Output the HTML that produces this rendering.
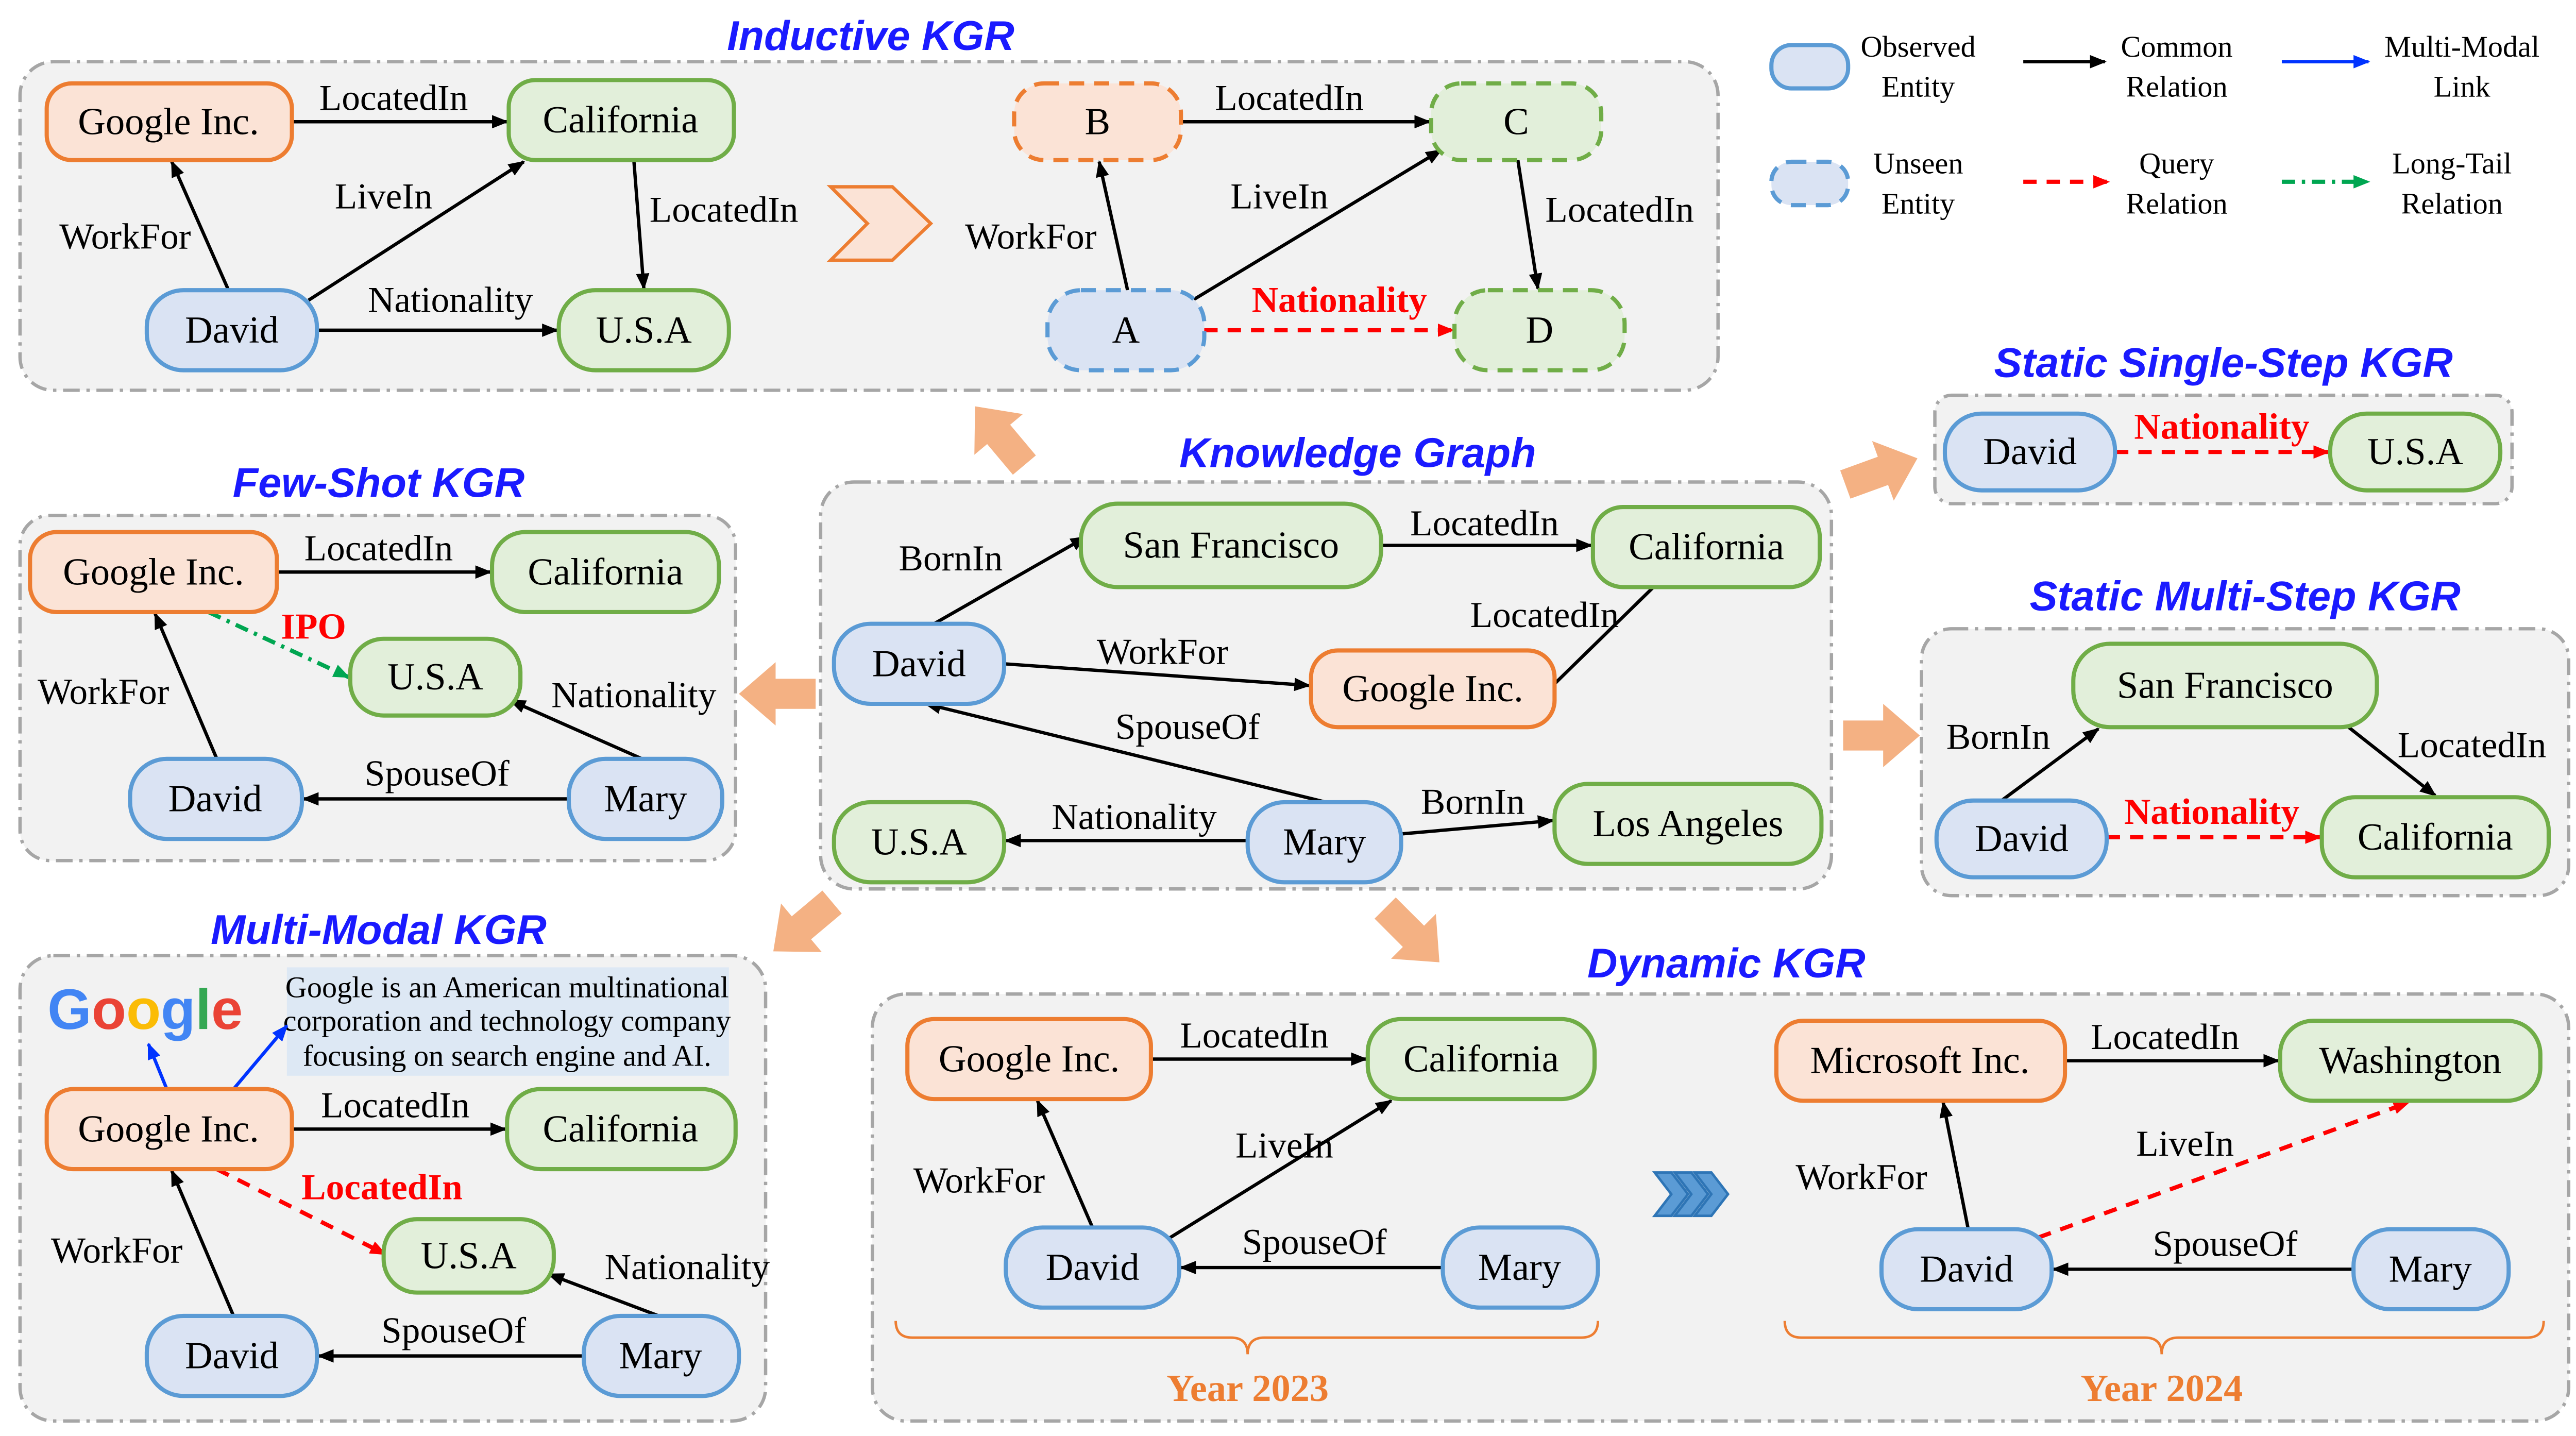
<!DOCTYPE html>
<html><head><meta charset="utf-8"><style>
html,body{margin:0;padding:0;background:#fff;}
svg{display:block;}
.n{font-family:"Liberation Serif",serif;font-size:23px;fill:#000;text-anchor:middle;dominant-baseline:central;}
.e{font-family:"Liberation Serif",serif;font-size:22px;fill:#000;text-anchor:middle;}
.r{font-family:"Liberation Serif",serif;font-size:22px;fill:#f00;font-weight:bold;text-anchor:middle;}
.t{font-family:"Liberation Sans",sans-serif;font-size:25px;fill:#1a1aff;font-style:italic;font-weight:bold;text-anchor:middle;}
.lg{font-family:"Liberation Serif",serif;font-size:18px;fill:#000;text-anchor:middle;}
.y{font-family:"Liberation Serif",serif;font-size:23px;fill:#ed7d31;font-weight:bold;text-anchor:middle;}
.panel{fill:#f2f2f2;stroke:#a6a6a6;stroke-width:2;stroke-dasharray:10 4 2 4;}
.o{fill:#fbe3d6;stroke:#ed7d31;stroke-width:2.5;}
.g{fill:#e2efda;stroke:#70ad47;stroke-width:2.5;}
.b{fill:#dae3f3;stroke:#5b9bd5;stroke-width:2.5;}
.d{stroke-dasharray:9 6;}
.k{stroke:#000;stroke-width:2;fill:none;marker-end:url(#ak);}
.rd{stroke:#f00;stroke-width:2.5;fill:none;stroke-dasharray:8 6;marker-end:url(#ar);}
.bl{stroke:#0033ff;stroke-width:2;fill:none;marker-end:url(#ab);}
.gr{stroke:#00a651;stroke-width:2.5;fill:none;stroke-dasharray:8 4 2 4;marker-end:url(#ag);}
.big{fill:#f4b183;}
.br{fill:none;stroke:#ed7d31;stroke-width:1.5;}
</style></head><body>
<svg width="5070" height="2787" viewBox="0 0 1566 861" preserveAspectRatio="none" xmlns="http://www.w3.org/2000/svg">
<defs>
<marker id="ak" markerWidth="10" markerHeight="8" refX="9" refY="4" orient="auto" markerUnits="userSpaceOnUse"><path d="M0,0 L10,4 L0,8 z" fill="#000"/></marker>
<marker id="ar" markerWidth="10" markerHeight="8" refX="9" refY="4" orient="auto" markerUnits="userSpaceOnUse"><path d="M0,0 L10,4 L0,8 z" fill="#f00"/></marker>
<marker id="ab" markerWidth="10" markerHeight="8" refX="9" refY="4" orient="auto" markerUnits="userSpaceOnUse"><path d="M0,0 L10,4 L0,8 z" fill="#0033ff"/></marker>
<marker id="ag" markerWidth="10" markerHeight="8" refX="9" refY="4" orient="auto" markerUnits="userSpaceOnUse"><path d="M0,0 L10,4 L0,8 z" fill="#00a651"/></marker>
<polygon id="ba" points="-22,-9 2,-9 2,-19 24,0 2,19 2,9 -22,9"/>
</defs>
<rect width="1566" height="861" fill="#fff"/>

<!-- Inductive KGR -->
<text class="t" x="522" y="30">Inductive KGR</text>
<rect class="panel" x="12" y="37" width="1018" height="197" rx="20"/>
<line class="k" x1="175" y1="73" x2="304" y2="73"/><text class="e" x="236" y="66">LocatedIn</text>
<line class="k" x1="137" y1="174" x2="103" y2="97"/><text class="e" x="75" y="149">WorkFor</text>
<line class="k" x1="185" y1="180" x2="314" y2="97"/><text class="e" x="230" y="125">LiveIn</text>
<line class="k" x1="380" y1="96" x2="386" y2="173"/><text class="e" x="434" y="133">LocatedIn</text>
<line class="k" x1="190" y1="198" x2="334" y2="198"/><text class="e" x="270" y="187">Nationality</text>
<rect class="o" x="28" y="50" width="147" height="46" rx="15"/><text class="n" x="101" y="73">Google Inc.</text>
<rect class="g" x="305" y="48" width="135" height="48" rx="16"/><text class="n" x="372" y="72">California</text>
<rect class="b" x="88" y="174" width="102" height="48" rx="22"/><text class="n" x="139" y="198">David</text>
<rect class="g" x="335" y="174" width="102" height="48" rx="22"/><text class="n" x="386" y="198">U.S.A</text>
<polygon points="498,112 535,112 558,134 535,156 498,156 520,134" fill="#fbe3d6" stroke="#ed7d31" stroke-width="2"/>
<line class="k" x1="708" y1="73" x2="857" y2="73"/><text class="e" x="773" y="66">LocatedIn</text>
<line class="k" x1="676" y1="174" x2="659" y2="97"/><text class="e" x="618" y="149">WorkFor</text>
<line class="k" x1="715" y1="180" x2="864" y2="90"/><text class="e" x="767" y="125">LiveIn</text>
<line class="k" x1="910" y1="96" x2="922" y2="173"/><text class="e" x="971" y="133">LocatedIn</text>
<line class="rd" x1="722" y1="198" x2="871" y2="198"/><text class="r" x="803" y="187">Nationality</text>
<rect class="o d" x="608" y="50" width="100" height="46" rx="18"/><text class="n" x="658" y="73">B</text>
<rect class="g d" x="858" y="50" width="102" height="46" rx="18"/><text class="n" x="909" y="73">C</text>
<rect class="b d" x="628" y="174" width="94" height="48" rx="20"/><text class="n" x="675" y="198">A</text>
<rect class="g d" x="872" y="174" width="102" height="48" rx="20"/><text class="n" x="923" y="198">D</text>

<!-- Legend -->
<rect class="b" x="1062" y="27" width="46" height="26" rx="12"/>
<text class="lg" x="1150" y="34">Observed</text><text class="lg" x="1150" y="58">Entity</text>
<line class="k" x1="1213" y1="37" x2="1262" y2="37"/>
<text class="lg" x="1305" y="34">Common</text><text class="lg" x="1305" y="58">Relation</text>
<line class="bl" x1="1368" y1="37" x2="1420" y2="37"/>
<text class="lg" x="1476" y="34">Multi-Modal</text><text class="lg" x="1476" y="58">Link</text>
<rect class="b d" x="1062" y="97" width="46" height="26" rx="12"/>
<text class="lg" x="1150" y="104">Unseen</text><text class="lg" x="1150" y="128">Entity</text>
<line class="rd" x1="1213" y1="109" x2="1264" y2="109"/>
<text class="lg" x="1305" y="104">Query</text><text class="lg" x="1305" y="128">Relation</text>
<line class="gr" x1="1368" y1="109" x2="1420" y2="109"/>
<text class="lg" x="1470" y="104">Long-Tail</text><text class="lg" x="1470" y="128">Relation</text>

<!-- Static single -->
<text class="t" x="1333" y="226">Static Single-Step KGR</text>
<rect class="panel" x="1160" y="237" width="346" height="65" rx="10"/>
<line class="rd" x1="1268" y1="271" x2="1396" y2="271"/><text class="r" x="1332" y="263">Nationality</text>
<rect class="b" x="1166" y="248" width="102" height="46" rx="22"/><text class="n" x="1217" y="271">David</text>
<rect class="g" x="1397" y="248" width="102" height="46" rx="22"/><text class="n" x="1448" y="271">U.S.A</text>

<!-- big arrows -->
<use href="#ba" class="big" transform="translate(1127,283) rotate(-20)"/>
<use href="#ba" class="big" transform="translate(1127,441)"/>
<use href="#ba" class="big" transform="translate(600,262) rotate(-130)"/>
<use href="#ba" class="big" transform="translate(467,416) rotate(180)"/>
<use href="#ba" class="big" transform="translate(482,555) rotate(140)"/>
<use href="#ba" class="big" transform="translate(846,560) rotate(45)"/>

<!-- Knowledge graph -->
<text class="t" x="814" y="280">Knowledge Graph</text>
<rect class="panel" x="492" y="289" width="606" height="244" rx="20"/>
<line class="k" x1="560" y1="374" x2="651" y2="322"/><text class="e" x="570" y="342">BornIn</text>
<line class="k" x1="828" y1="327" x2="954" y2="327"/><text class="e" x="890" y="321">LocatedIn</text>
<line class="k" x1="602" y1="398" x2="785" y2="411"/><text class="e" x="697" y="398">WorkFor</text>
<line class="k" x1="932" y1="410" x2="1022" y2="322"/><text class="e" x="926" y="376">LocatedIn</text>
<line class="k" x1="795" y1="481" x2="555" y2="422"/><text class="e" x="712" y="443">SpouseOf</text>
<line class="k" x1="748" y1="504" x2="603" y2="504"/><text class="e" x="680" y="497">Nationality</text>
<line class="k" x1="840" y1="500" x2="931" y2="492"/><text class="e" x="883" y="488">BornIn</text>
<rect class="g" x="648" y="302" width="180" height="50" rx="22"/><text class="n" x="738" y="327">San Francisco</text>
<rect class="g" x="955" y="304" width="136" height="48" rx="18"/><text class="n" x="1023" y="328">California</text>
<rect class="b" x="500" y="374" width="102" height="48" rx="22"/><text class="n" x="551" y="398">David</text>
<rect class="o" x="786" y="390" width="146" height="46" rx="16"/><text class="n" x="859" y="413">Google Inc.</text>
<rect class="g" x="500" y="481" width="102" height="48" rx="22"/><text class="n" x="551" y="505">U.S.A</text>
<rect class="b" x="748" y="481" width="92" height="48" rx="22"/><text class="n" x="794" y="505">Mary</text>
<rect class="g" x="932" y="470" width="160" height="48" rx="20"/><text class="n" x="1012" y="494">Los Angeles</text>

<!-- Few-shot -->
<text class="t" x="227" y="298">Few-Shot KGR</text>
<rect class="panel" x="12" y="309" width="429" height="207" rx="18"/>
<line class="k" x1="166" y1="343" x2="294" y2="343"/><text class="e" x="227" y="336">LocatedIn</text>
<line class="gr" x1="125" y1="367" x2="209" y2="406"/><text class="r" x="188" y="383">IPO</text>
<line class="k" x1="130" y1="455" x2="93" y2="368"/><text class="e" x="62" y="422">WorkFor</text>
<line class="k" x1="385" y1="455" x2="306" y2="420"/><text class="e" x="380" y="424">Nationality</text>
<line class="k" x1="341" y1="479" x2="182" y2="479"/><text class="e" x="262" y="471">SpouseOf</text>
<rect class="o" x="18" y="319" width="148" height="48" rx="16"/><text class="n" x="92" y="343">Google Inc.</text>
<rect class="g" x="295" y="319" width="136" height="48" rx="20"/><text class="n" x="363" y="343">California</text>
<rect class="g" x="210" y="383" width="102" height="46" rx="20"/><text class="n" x="261" y="406">U.S.A</text>
<rect class="b" x="78" y="455" width="103" height="48" rx="22"/><text class="n" x="129" y="479">David</text>
<rect class="b" x="341" y="455" width="92" height="48" rx="22"/><text class="n" x="387" y="479">Mary</text>

<!-- Static multi -->
<text class="t" x="1346" y="366">Static Multi-Step KGR</text>
<rect class="panel" x="1152" y="377" width="388" height="160" rx="18"/>
<line class="k" x1="1200" y1="480" x2="1258" y2="437"/><text class="e" x="1198" y="449">BornIn</text>
<line class="k" x1="1408" y1="436" x2="1460" y2="477"/><text class="e" x="1482" y="454">LocatedIn</text>
<line class="rd" x1="1263" y1="502" x2="1391" y2="502"/><text class="r" x="1326" y="494">Nationality</text>
<rect class="g" x="1243" y="386" width="182" height="50" rx="22"/><text class="n" x="1334" y="411">San Francisco</text>
<rect class="b" x="1161" y="480" width="102" height="46" rx="22"/><text class="n" x="1212" y="503">David</text>
<rect class="g" x="1392" y="478" width="136" height="48" rx="20"/><text class="n" x="1460" y="502">California</text>

<!-- Multi-modal -->
<text class="t" x="227" y="566">Multi-Modal KGR</text>
<rect class="panel" x="12" y="573" width="447" height="279" rx="20"/>
<text x="87" y="617" text-anchor="middle" font-family="Liberation Sans,sans-serif" font-size="34" font-weight="bold"><tspan fill="#4285f4">G</tspan><tspan fill="#ea4335">o</tspan><tspan fill="#fbbc05">o</tspan><tspan fill="#4285f4">g</tspan><tspan fill="#34a853">l</tspan><tspan fill="#ea4335">e</tspan></text>
<rect x="172" y="580" width="265" height="65" fill="#dde8f4"/>
<text class="lg" font-size="15.5" x="304" y="598">Google is an American multinational</text>
<text class="lg" font-size="15.5" x="304" y="618">corporation and technology company</text>
<text class="lg" font-size="15.5" x="304" y="639">focusing on search engine and AI.</text>
<line class="bl" x1="100" y1="653" x2="89" y2="626"/>
<line class="bl" x1="140" y1="653" x2="172" y2="615"/>
<line class="k" x1="175" y1="677" x2="303" y2="677"/><text class="e" x="237" y="670">LocatedIn</text>
<line class="rd" x1="130" y1="701" x2="231" y2="752"/><text class="r" x="229" y="719">LocatedIn</text>
<line class="k" x1="140" y1="789" x2="103" y2="702"/><text class="e" x="70" y="757">WorkFor</text>
<line class="k" x1="395" y1="789" x2="329" y2="764"/><text class="e" x="412" y="767">Nationality</text>
<line class="k" x1="350" y1="813" x2="191" y2="813"/><text class="e" x="272" y="805">SpouseOf</text>
<rect class="o" x="28" y="653" width="147" height="48" rx="16"/><text class="n" x="101" y="677">Google Inc.</text>
<rect class="g" x="304" y="653" width="137" height="48" rx="20"/><text class="n" x="372" y="677">California</text>
<rect class="g" x="230" y="731" width="102" height="44" rx="20"/><text class="n" x="281" y="753">U.S.A</text>
<rect class="b" x="88" y="789" width="102" height="48" rx="22"/><text class="n" x="139" y="813">David</text>
<rect class="b" x="350" y="789" width="93" height="48" rx="22"/><text class="n" x="396" y="813">Mary</text>

<!-- Dynamic -->
<text class="t" x="1035" y="586">Dynamic KGR</text>
<rect class="panel" x="523" y="596" width="1017" height="256" rx="20"/>
<line class="k" x1="690" y1="635" x2="819" y2="635"/><text class="e" x="752" y="628">LocatedIn</text>
<line class="k" x1="655" y1="736" x2="622" y2="660"/><text class="e" x="587" y="715">WorkFor</text>
<line class="k" x1="700" y1="743" x2="834" y2="660"/><text class="e" x="770" y="694">LiveIn</text>
<line class="k" x1="865" y1="760" x2="708" y2="760"/><text class="e" x="788" y="752">SpouseOf</text>
<rect class="o" x="544" y="611" width="146" height="48" rx="16"/><text class="n" x="617" y="635">Google Inc.</text>
<rect class="g" x="820" y="611" width="136" height="48" rx="20"/><text class="n" x="888" y="635">California</text>
<rect class="b" x="603" y="736" width="104" height="48" rx="22"/><text class="n" x="655" y="760">David</text>
<rect class="b" x="865" y="736" width="93" height="48" rx="22"/><text class="n" x="911" y="760">Mary</text>
<path class="br" d="M537,792 Q537,802 547,802 L738,802 Q748,802 748,812 Q748,802 758,802 L948,802 Q958,802 958,792"/>
<text class="y" x="748" y="840">Year 2023</text>
<g fill="#5b9bd5" stroke="#2e75b6" stroke-width="1.5">
<polygon points="992,703 1002,703 1012,716 1002,729 992,729 1002,716"/>
<polygon points="1004,703 1014,703 1024,716 1014,729 1004,729 1014,716"/>
<polygon points="1016,703 1026,703 1036,716 1026,729 1016,729 1026,716"/>
</g>
<line class="k" x1="1238" y1="636" x2="1366" y2="636"/><text class="e" x="1298" y="629">LocatedIn</text>
<line class="k" x1="1180" y1="737" x2="1165" y2="661"/><text class="e" x="1116" y="713">WorkFor</text>
<line class="rd" x1="1222" y1="742" x2="1444" y2="661"/><text class="e" x="1310" y="693">LiveIn</text>
<line class="k" x1="1411" y1="761" x2="1231" y2="761"/><text class="e" x="1334" y="753">SpouseOf</text>
<rect class="o" x="1065" y="612" width="173" height="48" rx="16"/><text class="n" x="1151" y="636">Microsoft Inc.</text>
<rect class="g" x="1367" y="612" width="156" height="48" rx="20"/><text class="n" x="1445" y="636">Washington</text>
<rect class="b" x="1128" y="737" width="102" height="48" rx="22"/><text class="n" x="1179" y="761">David</text>
<rect class="b" x="1411" y="737" width="93" height="48" rx="22"/><text class="n" x="1457" y="761">Mary</text>
<path class="br" d="M1070,792 Q1070,802 1080,802 L1286,802 Q1296,802 1296,812 Q1296,802 1306,802 L1515,802 Q1525,802 1525,792"/>
<text class="y" x="1296" y="840">Year 2024</text>
</svg>
</body></html>
